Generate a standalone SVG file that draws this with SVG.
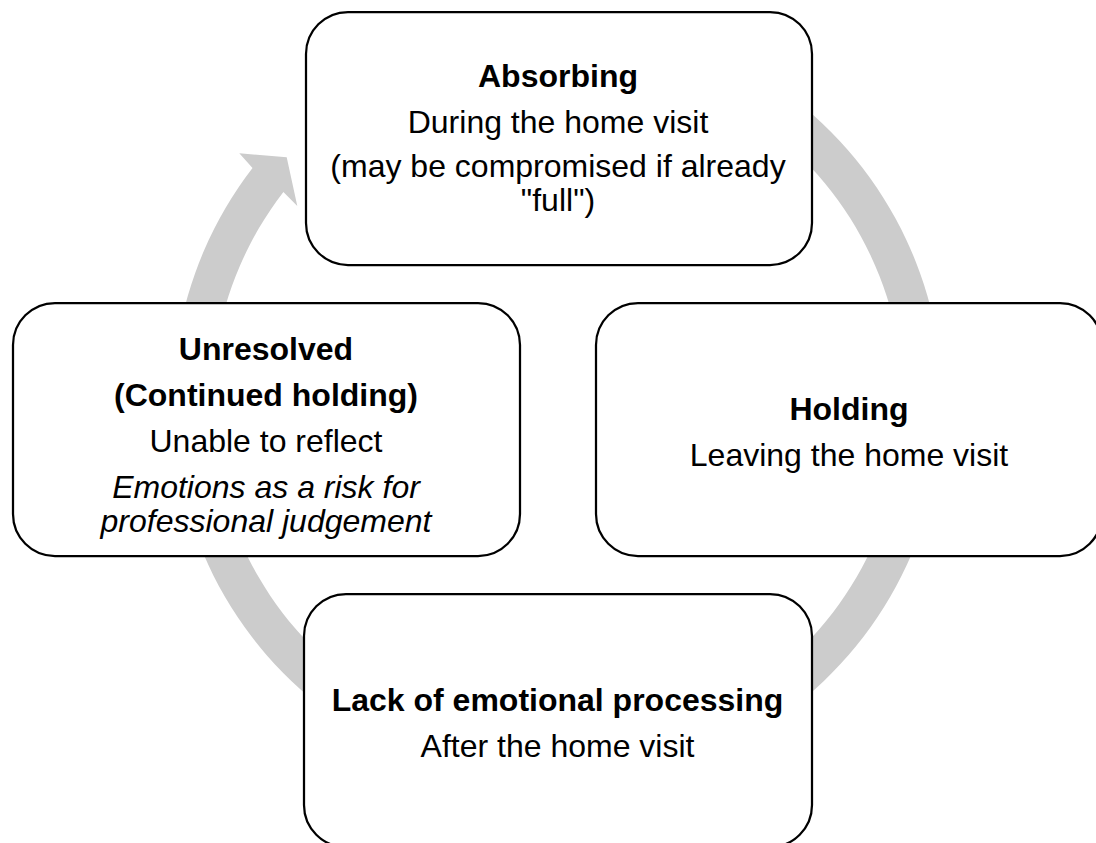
<svg xmlns="http://www.w3.org/2000/svg" width="1096" height="843" viewBox="0 0 1096 843">
  <style>
    .box { fill: #ffffff; stroke: #000000; stroke-width: 2.25; }
    .ring { fill: #cccccc; stroke: none; }
    text { font-family: "Liberation Sans", Arial, sans-serif; font-size: 32px; fill: #000000; text-anchor: middle; }
    .title { font-weight: bold; }
    .em { font-style: italic; }
  </style>
  <rect width="1096" height="843" fill="#ffffff"/>

  <!-- circular arrow running clockwise behind the four stages -->
  <g id="connectors">
    <path class="ring" d="M 336.7,87.6 A 385 385 0 1 1 252.5,168.1 L 239.3,153.3 L 286.7,157.3 L 297.3,206 L 283.4,191.9 A 346 346 0 1 0 359.0,119.6 Z"/>
  </g>

  <g id="absorbing">
    <rect class="box" x="306" y="12" width="506" height="253" rx="42" ry="42"/>
    <text class="title" x="558" y="87">Absorbing</text>
    <text x="558" y="132.5">During the home visit</text>
    <text x="558" y="177">(may be compromised if already</text>
    <text x="558" y="211">"full")</text>
  </g>

  <g id="holding">
    <rect class="box" x="596" y="303" width="506" height="253" rx="42" ry="42"/>
    <text class="title" x="849" y="420">Holding</text>
    <text x="849" y="465.5">Leaving the home visit</text>
  </g>

  <g id="lack-of-processing">
    <rect class="box" x="304" y="594" width="508" height="253" rx="42" ry="42"/>
    <text class="title" x="557.5" y="710.5">Lack of emotional processing</text>
    <text x="557.5" y="757">After the home visit</text>
  </g>

  <g id="unresolved">
    <rect class="box" x="13" y="303" width="507" height="253" rx="42" ry="42"/>
    <text class="title" x="266" y="360">Unresolved</text>
    <text class="title" x="266" y="406">(Continued holding)</text>
    <text x="266" y="452">Unable to reflect</text>
    <text class="em" x="266" y="498">Emotions as a risk for</text>
    <text class="em" x="266" y="532">professional judgement</text>
  </g>
</svg>
